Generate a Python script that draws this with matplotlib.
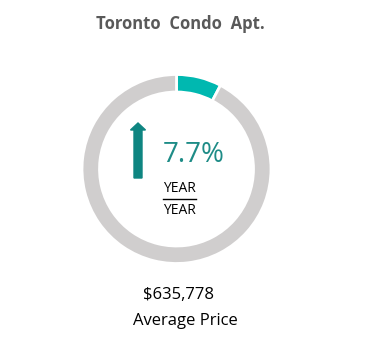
import numpy as np
import matplotlib
matplotlib.use("Agg")
import matplotlib.pyplot as plt

# data
share = [7.7, 92.3]          # year-over-year change, rest of the ring
ring_colors = ['#00B8B0', '#D0CECE']
title = "Toronto  Condo  Apt."
change_label = "7.7%"
price_label = "$635,778"
price_caption = "Average Price"

W, H = 365, 355
fig = plt.figure(figsize=(W / 100, H / 100), dpi=100)
ax = fig.add_axes([0, 0, 1, 1])

# donut, coordinates in pixels (y up)
cx, cy = 176.5, H - 169
ax.pie(share, colors=ring_colors, startangle=90, counterclock=False,
       center=(cx, cy), radius=94.5,
       wedgeprops=dict(width=17.5, edgecolor='white', linewidth=2))

ax.set_xlim(0, W)
ax.set_ylim(0, H)
ax.set_aspect('auto')
ax.axis('off')

# up arrow
ax.arrow(138, H - 178, 0, 48, width=8, head_width=15, head_length=7,
         color='#0E8581', length_includes_head=False)

ax.text(194, H - 155, change_label, ha='center', va='center',
        fontsize=20, color='#1E8C87', family='Open Sans')
ax.text(179.5, H - 188, "YEAR", ha='center', va='center', fontsize=10,
        color='black', family='Open Sans')
ax.plot([163, 196], [H - 199, H - 199], color='black', lw=1)
ax.text(179.5, H - 211, "YEAR", ha='center', va='center', fontsize=10,
        color='black', family='Open Sans')

ax.text(180, H - 24, title, ha='center', va='center', fontsize=12,
        fontweight='bold', color='#595959', family='Open Sans')
ax.text(178, H - 295, price_label, ha='center', va='center', fontsize=12,
        color='black', family='Open Sans')
ax.text(185, H - 321, price_caption, ha='center', va='center', fontsize=12,
        color='black', family='Open Sans')

fig.savefig('out.png', dpi=100)
